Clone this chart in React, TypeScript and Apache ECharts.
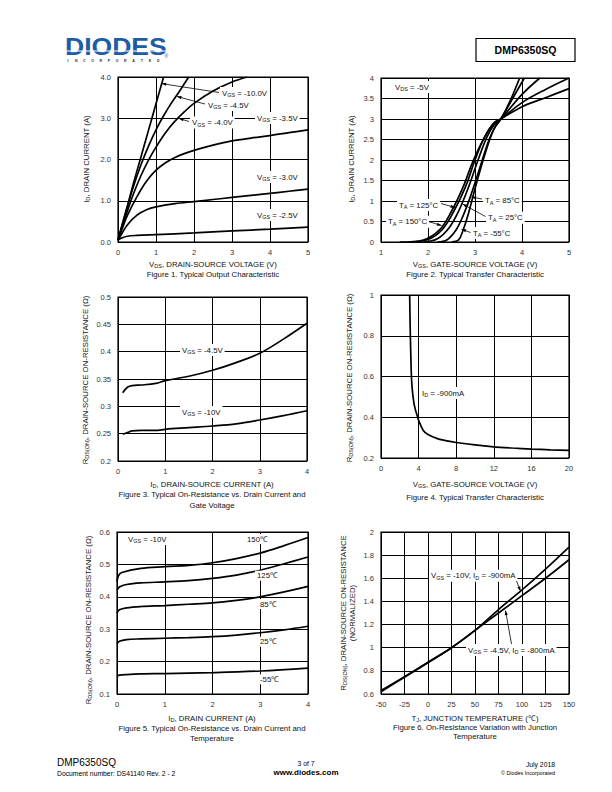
import React, { useEffect, useRef } from 'react';
import * as echarts from 'echarts';

const F = '"Liberation Sans", Arial, Helvetica, sans-serif';

// ---------- Figure 1: Typical Output Characteristic ----------
const fig1XTicks = [0, 1, 2, 3, 4, 5];
const fig1YTicks = [0, 1, 2, 3, 4];
const fig1Vgs10 = [[0, 0.05], [0.2, 0.7], [0.4, 1.4], [0.6, 2.05], [0.8, 2.7], [1.0, 3.35], [1.2, 4.0]];
const fig1Vgs45 = [[0, 0.05], [0.2, 0.72], [0.4, 1.33], [0.6, 1.86], [0.8, 2.32], [1.0, 2.72], [1.2, 3.06], [1.4, 3.36], [1.6, 3.63], [1.86, 4.0]];
const fig1Vgs40 = [[0, 0.05], [0.2, 0.62], [0.4, 1.15], [0.6, 1.6], [0.8, 1.98], [1.0, 2.3], [1.25, 2.65], [1.5, 2.93], [1.75, 3.16], [2.0, 3.36], [2.5, 3.66], [3.0, 3.88], [3.4, 4.0]];
const fig1Vgs35 = [[0, 0.05], [0.1, 0.3], [0.25, 0.65], [0.5, 1.1], [0.75, 1.47], [1.0, 1.74], [1.25, 1.92], [1.5, 2.05], [2, 2.22], [2.5, 2.35], [3, 2.45], [3.5, 2.52], [4, 2.58], [4.5, 2.65], [5, 2.72]];
const fig1Vgs30 = [[0, 0.05], [0.1, 0.2], [0.25, 0.42], [0.5, 0.65], [0.75, 0.78], [1, 0.85], [1.5, 0.93], [2, 0.98], [2.5, 1.03], [3, 1.08], [3.5, 1.13], [4, 1.18], [4.5, 1.23], [5, 1.28]];
const fig1Vgs25 = [[0, 0.05], [0.1, 0.1], [0.25, 0.14], [0.5, 0.16], [1, 0.18], [2, 0.22], [3, 0.27], [4, 0.31], [5, 0.36]];

// ---------- Figure 2: Typical Transfer Characteristic ----------
const fig2XTicks = [1, 2, 3, 4, 5];
const fig2YTicks = [0, 0.5, 1, 1.5, 2, 2.5, 3, 3.5, 4];
const fig2Tm55 = [[2.5, 0], [2.65, 0.05], [2.75, 0.3], [2.85, 0.65], [3.0, 1.3], [3.2, 2.1], [3.4, 2.75], [3.55, 3.0], [3.75, 3.45], [3.95, 4.0]];
const fig2T25 = [[2.2, 0], [2.4, 0.05], [2.6, 0.3], [2.75, 0.65], [2.9, 1.1], [3.1, 1.8], [3.3, 2.5], [3.45, 2.85], [3.55, 3.0], [3.8, 3.5], [4.05, 4.0]];
const fig2T85 = [[1.9, 0], [2.2, 0.08], [2.45, 0.35], [2.65, 0.75], [2.85, 1.3], [3.05, 1.95], [3.25, 2.55], [3.4, 2.85], [3.55, 3.0], [4.0, 3.6], [4.38, 4.0]];
const fig2T125 = [[1.6, 0], [2.0, 0.06], [2.3, 0.3], [2.55, 0.75], [2.8, 1.35], [3.0, 2.0], [3.2, 2.55], [3.4, 2.9], [3.55, 3.0], [4.0, 3.4], [4.5, 3.72], [5, 4.0]];
const fig2T150 = [[1.4, 0], [1.9, 0.05], [2.25, 0.3], [2.5, 0.75], [2.75, 1.35], [2.95, 1.95], [3.2, 2.55], [3.4, 2.9], [3.55, 3.0], [4.0, 3.3], [4.5, 3.52], [5, 3.74]];

// ---------- Figure 3: On-Resistance vs Drain Current and Gate Voltage ----------
const fig3XTicks = [0, 1, 2, 3, 4];
const fig3YTicks = [0.2, 0.25, 0.3, 0.35, 0.4, 0.45, 0.5];
const fig3Vgs45 = [[0.1, 0.325], [0.2, 0.335], [0.3, 0.338], [0.5, 0.339], [0.8, 0.342], [1, 0.347], [1.5, 0.355], [2, 0.366], [2.5, 0.38], [3, 0.397], [3.5, 0.423], [4, 0.452]];
const fig3Vgs10 = [[0.1, 0.249], [0.2, 0.252], [0.3, 0.255], [0.5, 0.256], [0.8, 0.256], [1, 0.258], [1.5, 0.261], [2, 0.264], [2.5, 0.268], [3, 0.275], [3.5, 0.283], [4, 0.292]];

// ---------- Figure 4: On-Resistance vs Gate-Source Voltage ----------
const fig4XTicks = [0, 4, 8, 12, 16, 20];
const fig4YTicks = [0.2, 0.4, 0.6, 0.8, 1];
const fig4Id900 = [[3.05, 1.0], [3.1, 0.85], [3.2, 0.65], [3.3, 0.55], [3.5, 0.47], [3.7, 0.43], [3.9, 0.4], [4, 0.385], [4.5, 0.335], [5, 0.315], [6, 0.295], [7, 0.284], [8, 0.276], [10, 0.264], [12, 0.255], [14, 0.249], [16, 0.244], [18, 0.24], [20, 0.237]];

// ---------- Figure 5: On-Resistance vs Drain Current and Temperature ----------
const fig5XTicks = [0, 1, 2, 3, 4];
const fig5YTicks = [0.1, 0.2, 0.3, 0.4, 0.5, 0.6];
const fig5T150 = [[0, 0.447], [0.03, 0.465], [0.1, 0.475], [0.5, 0.488], [1, 0.493], [1.5, 0.497], [2, 0.505], [2.5, 0.518], [3, 0.535], [3.5, 0.558], [4, 0.583]];
const fig5T125 = [[0, 0.42], [0.05, 0.43], [0.2, 0.438], [0.5, 0.443], [1, 0.446], [1.5, 0.45], [2, 0.457], [2.5, 0.467], [3, 0.482], [3.5, 0.502], [4, 0.523]];
const fig5T85 = [[0, 0.35], [0.05, 0.36], [0.2, 0.366], [0.5, 0.37], [1, 0.373], [1.5, 0.377], [2, 0.381], [2.5, 0.389], [3, 0.4], [3.5, 0.415], [4, 0.432]];
const fig5T25 = [[0, 0.255], [0.05, 0.263], [0.2, 0.268], [0.5, 0.27], [1, 0.272], [1.5, 0.274], [2, 0.277], [2.5, 0.282], [3, 0.289], [3.5, 0.298], [4, 0.309]];
const fig5Tm55 = [[0, 0.155], [0.05, 0.158], [0.2, 0.16], [0.5, 0.162], [1, 0.163], [2, 0.166], [3, 0.171], [4, 0.18]];

// ---------- Figure 6: Normalized On-Resistance vs Junction Temperature ----------
const fig6XTicks = [-50, -25, 0, 25, 50, 75, 100, 125, 150];
const fig6YTicks = [0.6, 0.8, 1, 1.2, 1.4, 1.6, 1.8, 2];
const fig6Vgs10 = [[-50, 0.62], [-25, 0.745], [0, 0.87], [25, 1.0], [50, 1.15], [75, 1.33], [100, 1.5], [125, 1.68], [150, 1.87]];
const fig6Vgs45 = [[-50, 0.63], [-25, 0.75], [0, 0.875], [25, 1.0], [50, 1.15], [75, 1.3], [100, 1.45], [125, 1.6], [150, 1.76]];

// ---------- layout ----------
const GRIDS = [
  { left: 118, top: 77, width: 190, height: 165 },
  { left: 381, top: 78, width: 188, height: 164 },
  { left: 118, top: 297, width: 189, height: 164 },
  { left: 381, top: 295, width: 188, height: 163 },
  { left: 117, top: 532, width: 191, height: 162 },
  { left: 381, top: 532, width: 188, height: 162 },
];

const FS = 7.8;
const RICH = {
  n: { fontFamily: F, fontSize: FS, color: '#111', lineHeight: 10 },
  s: { fontFamily: F, fontSize: 5.5, color: '#111', lineHeight: 5.5, verticalAlign: 'bottom' },
};

function txt(x: number, y: number, text: string, o: any = {}) {
  return {
    type: 'text', x, y, z: 20, rotation: o.rot || 0,
    style: {
      text, fontFamily: F, fontSize: o.size || FS, fontWeight: o.weight || 'normal',
      fill: o.color || '#111', align: o.align || 'left', verticalAlign: 'middle',
      backgroundColor: o.bg, padding: o.bg ? [1, 2] : 0, rich: RICH,
    },
  };
}

function arrow(x1: number, y1: number, x2: number, y2: number) {
  const a = Math.atan2(y2 - y1, x2 - x1);
  const L = 4.5, W = 1.6;
  const c = Math.cos(a), s = Math.sin(a);
  return [
    { type: 'line', z: 20, shape: { x1, y1, x2, y2 }, style: { stroke: '#000', lineWidth: 0.8 } },
    {
      type: 'polygon', z: 20,
      shape: { points: [[x2, y2], [x2 - L * c + W * s, y2 - L * s - W * c], [x2 - L * c - W * s, y2 - L * s + W * c]] },
      style: { fill: '#000' },
    },
  ];
}

const fmt = (d: number) => (v: number) => (d > 0 ? v.toFixed(d) : String(Math.round(v * 1000) / 1000));

function axis(ticks: number[], idx: number, dec: number, isX: boolean) {
  return {
    type: 'value', gridIndex: idx,
    min: ticks[0], max: ticks[ticks.length - 1], interval: ticks[1] - ticks[0],
    axisLine: { show: false }, axisTick: { show: false },
    splitLine: { show: true, lineStyle: { color: '#000', width: 1 } },
    axisLabel: { fontFamily: F, fontSize: 7.5, color: '#333', margin: isX ? 6 : 7, formatter: fmt(dec), showMinLabel: true, showMaxLabel: true },
  };
}

function line(data: number[][], idx: number, smooth = 0.35) {
  return {
    type: 'line', xAxisIndex: idx, yAxisIndex: idx, data, symbol: 'none', smooth,
    lineStyle: { color: '#000', width: 1.7 }, silent: true, z: 3,
  };
}

export default function App() {
  const ref = useRef<HTMLDivElement>(null);
  useEffect(() => {
    if (!ref.current) return;
    const chart = echarts.init(ref.current, null, { renderer: 'svg', width: 612, height: 792 });

    const V = (sub: string, rest: string, pre = 'V') => `{n|${pre}}{s|${sub}}{n|${rest}}`;

    const letters = 'INCORPORATED'.split('');
    const graphic: any[] = [
      // header logo
      { type: 'text', x: 65, y: 46.5, z: 20, scaleX: 1.13, style: { text: 'DIODES', fontFamily: F, fontSize: 23.5, fontWeight: 900, fill: '#1d5ca6', verticalAlign: 'middle' } },
      { type: 'rect', z: 21, shape: { x: 63, y: 50.5, width: 106, height: 1.1 }, style: { fill: '#fff' } },
      { type: 'text', x: 164.5, y: 56, z: 20, style: { text: '®', fontFamily: F, fontSize: 5, fill: '#1d5ca6', verticalAlign: 'middle' } },
      ...letters.map((ch, i) => ({ type: 'text', x: 68 + i * 8.2, y: 60.5, z: 20, style: { text: ch, fontFamily: F, fontSize: 3.6, fontWeight: 'bold', fill: '#333', align: 'center', verticalAlign: 'middle' } })),
      // part number box
      { type: 'rect', z: 20, shape: { x: 476, y: 38.5, width: 99, height: 23 }, style: { fill: 'none', stroke: '#000', lineWidth: 1.2 } },
      txt(525.5, 50, 'DMP6350SQ', { size: 10.5, weight: 'bold', align: 'center', color: '#000' }),

      // ---- Fig 1 texts
      txt(86, 159, V('D', ', DRAIN CURRENT (A)', 'I'), { rot: Math.PI / 2, align: 'center' }),
      txt(213, 264, V('DS', ', DRAIN-SOURCE VOLTAGE (V)'), { align: 'center' }),
      txt(213, 274, 'Figure 1. Typical Output Characteristic', { align: 'center' }),
      txt(220, 93, V('GS', ' = -10.0V'), { bg: '#fff' }),
      ...arrow(219, 92.5, 161.7, 83.6),
      txt(206, 105, V('GS', ' = -4.5V'), { bg: '#fff' }),
      ...arrow(205, 104, 177, 96.5),
      txt(190, 122.5, V('GS', ' = -4.0V'), { bg: '#fff' }),
      ...arrow(189, 121.5, 179, 118.5),
      txt(255, 118, V('GS', ' = -3.5V'), { bg: '#fff' }),
      txt(255, 177, V('GS', ' = -3.0V'), { bg: '#fff' }),
      txt(255, 215, V('GS', ' = -2.5V'), { bg: '#fff' }),

      // ---- Fig 2 texts
      txt(351, 159, V('D', ', DRAIN CURRENT (A)', 'I'), { rot: Math.PI / 2, align: 'center' }),
      txt(475, 264, V('GS', ', GATE-SOURCE VOLTAGE (V)'), { align: 'center' }),
      txt(475, 274, 'Figure 2. Typical Transfer Characteristic', { align: 'center' }),
      txt(393, 87, V('DS', ' = -5V'), { bg: '#fff' }),
      txt(483, 200.5, V('A', ' = 85°C', 'T'), { bg: '#fff' }),
      ...arrow(482, 199, 471.5, 197),
      txt(397, 205, V('A', ' = 125°C', 'T'), { bg: '#fff' }),
      ...arrow(441, 203.5, 455, 207.5),
      txt(486, 217.7, V('A', ' = 25°C', 'T'), { bg: '#fff' }),
      ...arrow(485.5, 216.5, 462.5, 204),
      txt(386, 221.7, V('A', ' = 150°C', 'T'), { bg: '#fff' }),
      ...arrow(429, 221.7, 441.5, 225.5),
      txt(471, 233, V('A', ' = -55°C', 'T'), { bg: '#fff' }),
      ...arrow(470.5, 232.5, 461.5, 229.3),

      // ---- Fig 3 texts
      txt(85, 380, V('DS(ON)', ', DRAIN-SOURCE ON-RESISTANCE (Ω)', 'R'), { rot: Math.PI / 2, align: 'center' }),
      txt(212, 484, V('D', ', DRAIN-SOURCE CURRENT (A)', 'I'), { align: 'center' }),
      txt(212, 494.5, 'Figure 3. Typical On-Resistance vs. Drain Current and', { align: 'center' }),
      txt(212, 505, 'Gate Voltage', { align: 'center' }),
      txt(180, 350, V('GS', ' = -4.5V'), { bg: '#fff' }),
      txt(180, 412, V('GS', ' = -10V'), { bg: '#fff' }),

      // ---- Fig 4 texts
      txt(349, 378, V('DS(ON)', ', DRAIN-SOURCE ON-RESISTANCE (Ω)', 'R'), { rot: Math.PI / 2, align: 'center' }),
      txt(475, 484, V('GS', ', GATE-SOURCE VOLTAGE (V)'), { align: 'center' }),
      txt(475, 497, 'Figure 4. Typical Transfer Characteristic', { align: 'center' }),
      txt(420, 393, V('D', ' = -900mA', 'I'), { bg: '#fff' }),

      // ---- Fig 5 texts
      txt(88, 620, V('DS(ON)', ', DRAIN-SOURCE ON-RESISTANCE (Ω)', 'R'), { rot: Math.PI / 2, align: 'center' }),
      txt(212, 718, V('D', ', DRAIN CURRENT (A)', 'I'), { align: 'center' }),
      txt(212, 728.5, 'Figure 5. Typical On-Resistance vs. Drain Current and', { align: 'center' }),
      txt(212, 738.5, 'Temperature', { align: 'center' }),
      txt(126, 539, V('GS', ' = -10V'), { bg: '#fff' }),
      txt(245, 539, '150℃', { bg: '#fff' }),
      txt(255, 575.7, '125℃', { bg: '#fff' }),
      txt(258, 604, '85℃', { bg: '#fff' }),
      txt(258, 641.7, '25℃', { bg: '#fff' }),
      txt(258, 679.3, '-55℃', { bg: '#fff' }),

      // ---- Fig 6 texts
      txt(343, 613, V('DS(ON)', ', DRAIN-SOURCE ON-RESISTANCE', 'R'), { rot: Math.PI / 2, align: 'center' }),
      txt(352, 613, '(NORMALIZED)', { rot: Math.PI / 2, align: 'center' }),
      txt(475, 718, `{n|T}{s|J}{n|, JUNCTION TEMPERATURE (℃)}`, { align: 'center' }),
      txt(475, 727, 'Figure 6. On-Resistance Variation with Junction', { align: 'center' }),
      txt(475, 736, 'Temperature', { align: 'center' }),
      txt(429, 575.7, `{n|V}{s|GS}{n| = -10V, I}{s|D}{n| = -900mA}`, { bg: '#fff' }),
      ...arrow(516.5, 581, 520.5, 591),
      txt(466, 650, `{n|V}{s|GS}{n| = -4.5V, I}{s|D}{n| = -800mA}`, { bg: '#fff' }),
      ...arrow(511.5, 644, 505.5, 610.5),

      // ---- footer
      txt(57, 762.5, 'DMP6350SQ', { size: 10, color: '#000' }),
      txt(57, 773, 'Document number: DS41140 Rev. 2 - 2', { size: 6.8, color: '#000' }),
      txt(306, 763, '3 of 7', { size: 6.8, align: 'center', color: '#000' }),
      txt(306, 772.5, 'www.diodes.com', { size: 8, weight: 'bold', align: 'center', color: '#000' }),
      txt(555, 764, 'July 2018', { size: 6.8, align: 'right', color: '#000' }),
      txt(555, 772.5, '© Diodes Incorporated', { size: 5.4, align: 'right', color: '#000' }),
    ];

    const option: any = {
      animation: false,
      backgroundColor: '#fff',
      grid: GRIDS.map((g) => ({ ...g, show: true, borderColor: '#000', borderWidth: 1.2, backgroundColor: 'transparent' })),
      xAxis: [
        axis(fig1XTicks, 0, 0, true),
        axis(fig2XTicks, 1, 0, true),
        axis(fig3XTicks, 2, 0, true),
        axis(fig4XTicks, 3, 0, true),
        axis(fig5XTicks, 4, 0, true),
        axis(fig6XTicks, 5, 0, true),
      ],
      yAxis: [
        axis(fig1YTicks, 0, 1, false),
        axis(fig2YTicks, 1, 0, false),
        axis(fig3YTicks, 2, 0, false),
        axis(fig4YTicks, 3, 0, false),
        axis(fig5YTicks, 4, 0, false),
        axis(fig6YTicks, 5, 0, false),
      ],
      series: [
        line(fig1Vgs10, 0), line(fig1Vgs45, 0), line(fig1Vgs40, 0), line(fig1Vgs35, 0), line(fig1Vgs30, 0), line(fig1Vgs25, 0),
        line(fig2Tm55, 1), line(fig2T25, 1), line(fig2T85, 1), line(fig2T125, 1), line(fig2T150, 1),
        line(fig3Vgs45, 2), line(fig3Vgs10, 2),
        line(fig4Id900, 3, 0.2),
        line(fig5T150, 4), line(fig5T125, 4), line(fig5T85, 4), line(fig5T25, 4), line(fig5Tm55, 4),
        line(fig6Vgs10, 5), line(fig6Vgs45, 5),
      ],
      graphic: { elements: graphic },
    };
    chart.setOption(option);
    return () => chart.dispose();
  }, []);
  return <div ref={ref} style={{ position: 'absolute', left: 0, top: 0, width: 612, height: 792, background: '#fff' }} />;
}
